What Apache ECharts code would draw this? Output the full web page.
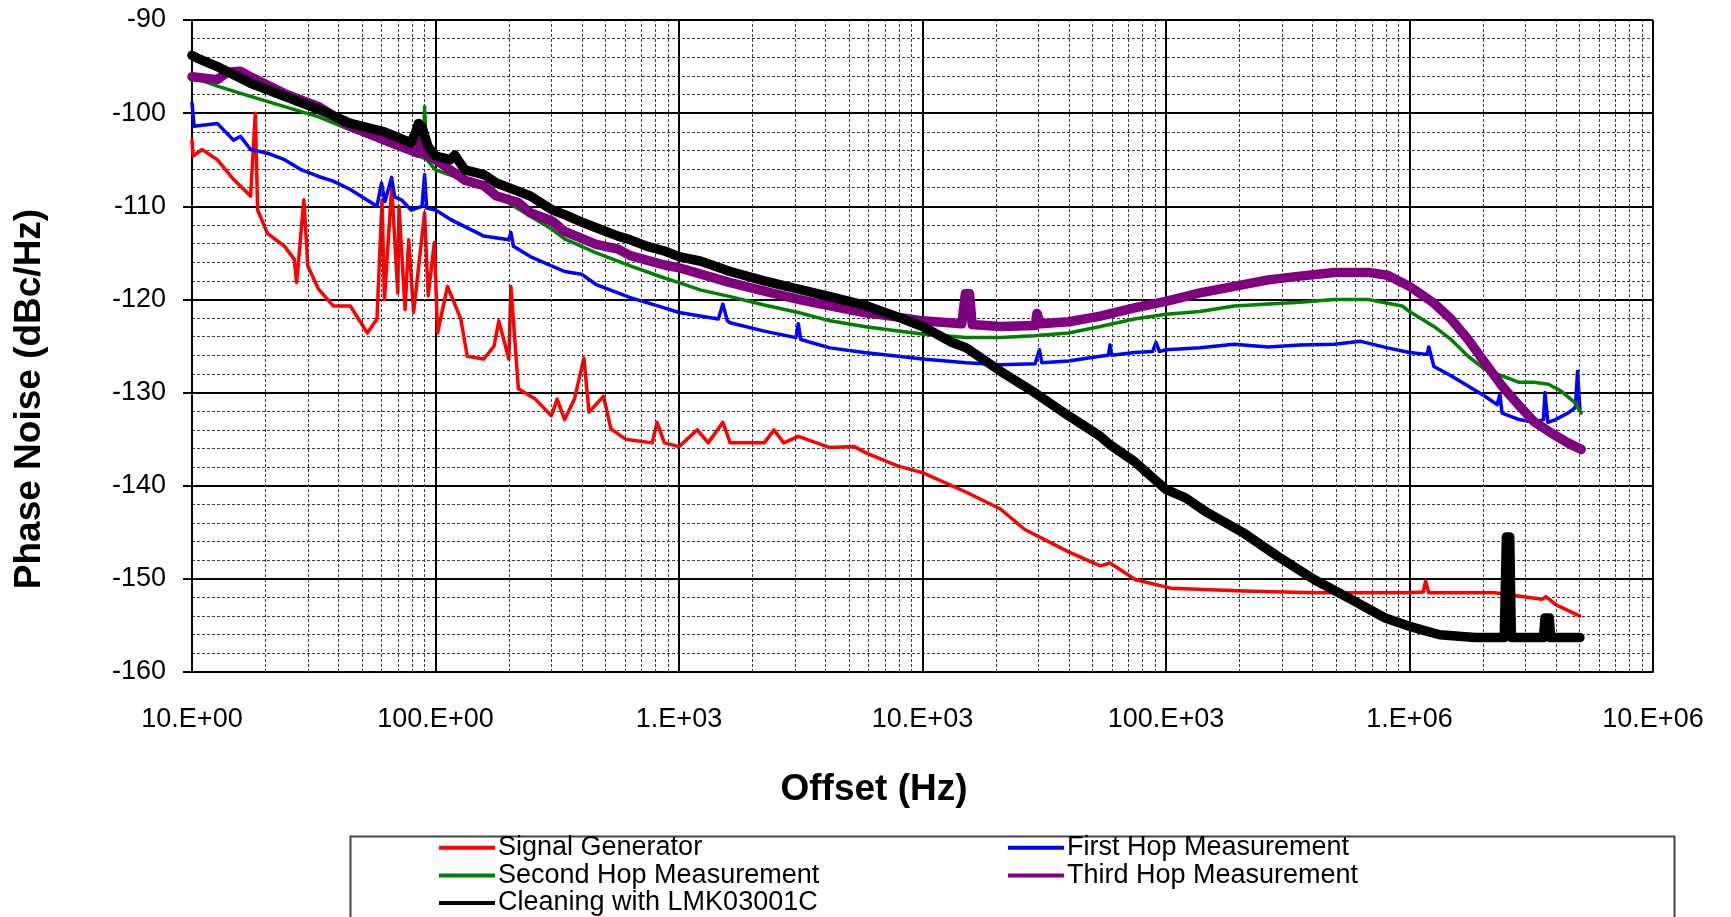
<!DOCTYPE html>
<html><head><meta charset="utf-8">
<script src="https://cdn.jsdelivr.net/npm/echarts@6/dist/echarts.min.js"></script>
<style>html,body{margin:0;padding:0;background:#fff}#c{width:1731px;height:917px}</style>
</head><body><div id="c"></div>
<script>
const seriesNames = ['Signal Generator', 'First Hop Measurement', 'Second Hop Measurement', 'Third Hop Measurement', 'Cleaning with LMK03001C'];
const yTicks = [-160, -150, -140, -130, -120, -110, -100, -90];
const xTicks = [10, 100, 1e3, 1e4, 1e5, 1e6, 1e7];

const signalGenerator = [[10,-102.9],[10.1,-104.6],[11,-103.9],[12.7,-105],[14.8,-107.1],[17.4,-108.9],[18.2,-100],[18.6,-110.4],[20.4,-112.9],[24,-114.3],[26.3,-115.7],[26.9,-118.2],[28.8,-109.3],[29.9,-116.4],[33.1,-118.9],[38,-120.7],[44.7,-120.7],[52.5,-123.6],[57.5,-122.1],[60.3,-109.3],[61.7,-120],[66.1,-107.9],[70,-119.3],[70.8,-110],[75,-121.1],[77.6,-113.6],[81.3,-121.4],[90.2,-110.7],[93.3,-119.6],[98.9,-113.9],[102,-123.6],[112,-118.6],[127,-122.1],[135,-126.1],[158,-126.4],[174,-125],[182,-122.3],[200,-126.4],[204,-118.6],[219,-129.6],[257,-130.7],[299,-132.5],[316,-130.7],[339,-132.9],[372,-130.7],[407,-126.3],[427,-132.1],[490,-130.4],[525,-133.9],[603,-135],[776,-135.4],[813,-133.2],[871,-135.4],[1000,-135.8],[1189,-134],[1318,-135.4],[1514,-133.2],[1622,-135.4],[2239,-135.4],[2455,-134],[2692,-135.4],[3090,-134.7],[4169,-135.9],[5248,-135.8],[5888,-136.5],[7943,-137.9],[10000,-138.6],[15136,-140.7],[20893,-142.5],[26303,-144.7],[39811,-147.1],[53703,-148.6],[58884,-148.3],[74989,-150.1],[104713,-151],[208930,-151.3],[407380,-151.5],[1000000,-151.5],[1140000,-151.4],[1164000,-150.2],[1200000,-151.5],[2240000,-151.5],[3500000,-152.2],[3630000,-151.9],[4000000,-152.8],[5010000,-154]];

const firstHop = [[10,-98.9],[10.2,-101.4],[12.7,-101.1],[14.8,-102.9],[15.8,-102.5],[17.4,-103.9],[20.4,-104.3],[24,-105],[28.2,-106.1],[33.1,-106.8],[38,-107.3],[44.7,-108.2],[57.5,-110],[60,-107.5],[62,-109.5],[66,-106.9],[68,-109],[72.4,-109.3],[79.4,-110.4],[88,-110],[90.2,-106.6],[92,-110.2],[100,-110.4],[115,-111.4],[158,-113.2],[200,-113.6],[204,-112.8],[209,-114.3],[245,-115.4],[339,-117],[398,-117.3],[457,-118.4],[631,-119.8],[871,-120.9],[1000,-121.4],[1450,-122.1],[1514,-120.5],[1580,-122.3],[1622,-122.5],[2239,-123.4],[3020,-124.1],[3090,-122.6],[3162,-124.3],[4169,-125.2],[5754,-125.7],[7943,-126.1],[10000,-126.4],[15136,-126.8],[20893,-127],[29000,-126.9],[30200,-125.4],[30903,-126.8],[39811,-126.6],[53703,-126.1],[58000,-126],[58884,-124.9],[60000,-126],[74131,-125.7],[88000,-125.6],[91000,-124.6],[94000,-125.6],[100000,-125.4],[138038,-125.2],[190546,-124.8],[263027,-125.1],[354813,-124.9],[489779,-124.8],[630957,-124.5],[812831,-125.2],[1000000,-125.7],[1180000,-125.9],[1200000,-125.1],[1260000,-127.2],[1480000,-128.2],[1740000,-129.3],[2040000,-130.4],[2290000,-131.3],[2350000,-130.2],[2400000,-132.2],[2820000,-132.9],[3240000,-133.2],[3550000,-132.9],[3600000,-130],[3700000,-133.2],[3980000,-132.9],[4470000,-132.2],[4800000,-131.6],[4900000,-127.7],[5010000,-131.8]];

const secondHop = [[10,-96.1],[12.7,-97.1],[17.4,-98.2],[24,-99.3],[33.1,-100.4],[44.7,-101.8],[61.7,-103.2],[85.1,-104.6],[89,-104.8],[90.2,-99.3],[92,-105],[100,-106.1],[158,-107.9],[219,-110.3],[302,-112.5],[339,-113.5],[457,-115],[631,-116.4],[871,-117.7],[1000,-118.2],[1230,-119],[1622,-119.7],[2239,-120.6],[3090,-121.4],[4169,-122.3],[5754,-122.9],[7943,-123.4],[10000,-123.7],[15136,-124.1],[20893,-124.1],[28840,-123.9],[39811,-123.6],[53703,-122.9],[74131,-122.1],[100000,-121.6],[138038,-121.3],[190546,-120.7],[263027,-120.5],[354813,-120.3],[489779,-120],[676083,-120],[933254,-120.7],[1000000,-121.3],[1260000,-122.9],[1480000,-124.3],[1740000,-126.1],[2040000,-127.5],[2400000,-128.2],[2820000,-128.9],[3240000,-128.9],[3720000,-129.1],[4170000,-129.8],[4790000,-131.1],[5070000,-132.2]];

const thirdHop = [[10,-96.1],[12.7,-96.4],[14,-95.6],[15.8,-95.5],[17.4,-96.1],[24,-97.9],[33.1,-99.3],[44.7,-101.4],[61.7,-102.9],[85.1,-104.3],[88,-102],[92,-104.5],[100,-105],[132,-107.2],[158,-107.8],[178,-108.9],[219,-109.6],[245,-110.7],[302,-111.6],[339,-112.7],[457,-114.1],[562,-114.6],[631,-115.3],[871,-116.3],[1000,-116.6],[1622,-118.2],[2239,-119.1],[3090,-120],[4169,-120.7],[5754,-121.4],[7943,-121.9],[10000,-122.3],[14500,-122.6],[15000,-119.4],[15600,-119.4],[16000,-122.7],[20893,-122.9],[29000,-122.8],[29512,-121.5],[30500,-122.6],[39811,-122.4],[53703,-121.8],[74131,-120.9],[100000,-120.2],[138038,-119.3],[190546,-118.6],[263027,-117.9],[354813,-117.5],[489779,-117.1],[676083,-117.1],[812831,-117.4],[1000000,-118.6],[1260000,-120.4],[1480000,-122.1],[1740000,-124.3],[2040000,-126.8],[2400000,-129.3],[2820000,-131.4],[3240000,-133.1],[3800000,-134.3],[4470000,-135.4],[5070000,-136.1]];

const cleaning = [[10,-93.8],[10.5,-94.1],[12.7,-95],[17.4,-96.8],[24,-98.2],[33.1,-99.6],[44.7,-101.1],[61.7,-102],[79.4,-103.2],[83,-102],[85.1,-101.1],[88,-101.5],[93.3,-103.6],[100,-104.6],[115,-105],[120,-104.5],[132,-106.1],[158,-106.6],[178,-107.5],[219,-108.4],[245,-108.9],[302,-110.4],[339,-110.9],[407,-111.8],[457,-112.3],[562,-113.2],[631,-113.6],[741,-114.3],[871,-114.8],[1000,-115.4],[1230,-115.9],[1622,-117],[2239,-118],[3090,-118.9],[4169,-119.7],[5754,-120.6],[7943,-121.9],[10000,-122.9],[13183,-124.6],[15136,-125.2],[20893,-127.7],[28840,-130],[39811,-132.5],[53703,-134.7],[58884,-135.6],[74131,-137.4],[100000,-140.4],[120226,-141.3],[147911,-142.9],[208930,-145.1],[288403,-147.6],[407380,-150.1],[575440,-152.2],[794328,-154.2],[1000000,-155.1],[1330000,-156],[1860000,-156.3],[2450000,-156.3],[2500000,-145.5],[2580000,-145.5],[2620000,-156.3],[3550000,-156.3],[3600000,-154.2],[3750000,-154.2],[3800000,-156.3],[5010000,-156.3]];

const FONT = "'Liberation Sans', Arial, sans-serif";

function engFormat(v) {
  const p = Math.round(Math.log10(v));
  const e = Math.floor(p / 3) * 3;
  const m = Math.round(v / Math.pow(10, e));
  return m + '.E+' + (e < 10 ? '0' + e : '' + e);
}

const minorX = [];
for (let d = 1; d < 7; d++) for (let k = 2; k < 10; k++) minorX.push({ xAxis: k * Math.pow(10, d) });

const chart = echarts.init(document.getElementById('c'));
const mk = (name, data, color, width, z) => ({
  name, type: 'line', data, showSymbol: false, symbol: 'none', color,
  lineStyle: { color, width, join: 'round', cap: 'round' }, z, animation: false, clip: true
});

const legendCommon = {
  orient: 'vertical', top: 834, padding: 0,
  itemWidth: 56, itemHeight: 4, itemGap: 0, icon: 'rect',
  textStyle: { fontFamily: FONT, fontSize: 27, lineHeight: 27.6, color: '#000', padding: [0, 0, 0, -2] }
};

chart.setOption({
  animation: false,
  backgroundColor: '#fff',
  grid: { left: 192, right: 78, top: 20, bottom: 245 },
  xAxis: {
    type: 'log', logBase: 10, min: 10, max: 1e7, splitNumber: 6,
    axisLine: { show: true, lineStyle: { color: '#000', width: 2 } },
    axisTick: { show: false },
    axisLabel: { fontFamily: FONT, fontSize: 27, color: '#000', margin: 34, formatter: engFormat, showMinLabel: true, showMaxLabel: true },
    splitLine: { show: true, showMinLine: true, showMaxLine: true, lineStyle: { color: '#000', width: 2 } }
  },
  yAxis: {
    type: 'value', min: -160, max: -90, interval: 10,
    axisLine: { show: true, lineStyle: { color: '#000', width: 2 } },
    axisTick: { show: true, length: 9, lineStyle: { color: '#000', width: 2 } },
    axisLabel: { fontFamily: FONT, fontSize: 27, color: '#000', margin: 26 },
    splitLine: { show: true, showMinLine: true, showMaxLine: true, lineStyle: { color: '#000', width: 2 } },
    minorTick: { show: false, splitNumber: 5 },
    minorSplitLine: { show: true, lineStyle: { color: '#3a3a3a', width: 1, type: [3, 2] } }
  },
  legend: [
    Object.assign({ data: [seriesNames[0], seriesNames[2], seriesNames[4]], left: 439 }, legendCommon),
    Object.assign({ data: [seriesNames[1], seriesNames[3]], left: 1008 }, legendCommon)
  ],
  graphic: [
    { type: 'rect', left: 348, top: 834, shape: { width: 1324, height: 120 }, style: { fill: 'none', stroke: '#444', lineWidth: 2 }, silent: true },
    { type: 'text', x: 30, y: 399, rotation: Math.PI / 2, silent: true,
      style: { text: 'Phase Noise (dBc/Hz)', fontFamily: FONT, fontSize: 37, fontWeight: 'bold', fill: '#000', align: 'center', verticalAlign: 'middle' } },
    { type: 'text', x: 874, y: 790, silent: true,
      style: { text: 'Offset (Hz)', fontFamily: FONT, fontSize: 37, fontWeight: 'bold', fill: '#000', align: 'center', verticalAlign: 'middle' } }
  ],
  series: [
    { name: '_minorGrid', type: 'line', data: [], z: 1, silent: true,
      markLine: { silent: true, symbol: 'none', label: { show: false }, animation: false,
        lineStyle: { color: '#3a3a3a', width: 1, type: [3, 2] }, data: minorX } },
    mk(seriesNames[0], signalGenerator, '#ff0000', 3.5, 3),
    mk(seriesNames[1], firstHop, '#0000ff', 3.5, 4),
    mk(seriesNames[2], secondHop, '#008000', 3.5, 5),
    mk(seriesNames[3], thirdHop, '#800080', 9.5, 6),
    mk(seriesNames[4], cleaning, '#000000', 9.5, 7)
  ]
});
</script></body></html>
